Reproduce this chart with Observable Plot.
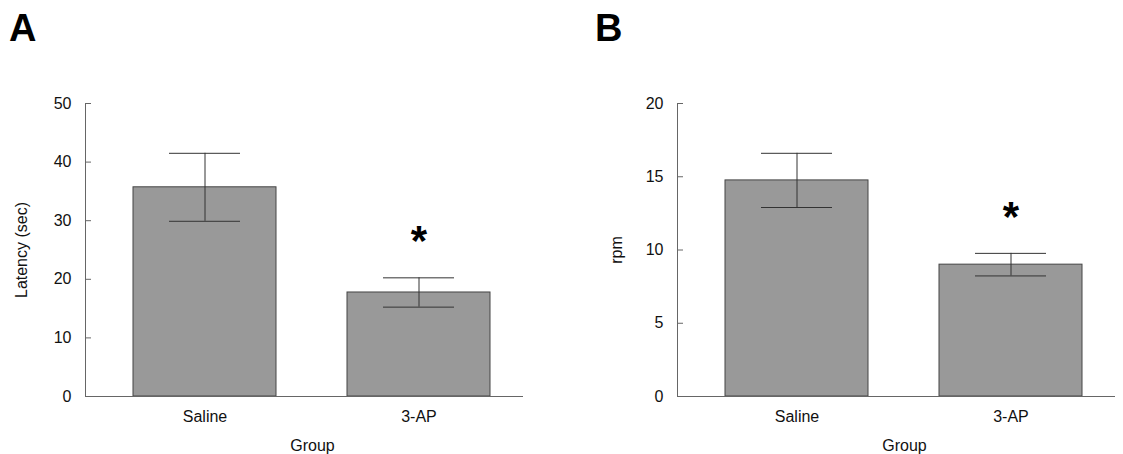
<!DOCTYPE html>
<html>
<head>
<meta charset="utf-8">
<script src="https://cdn.jsdelivr.net/npm/d3@7"></script>
<script src="https://cdn.jsdelivr.net/npm/@observablehq/plot@0.6"></script>
<style>
  html, body { margin: 0; padding: 0; background: #fff; }
  #wrap { position: relative; width: 1123px; height: 454px; overflow: hidden; font-family: "Liberation Sans", Arial, sans-serif; }
  .panel { position: absolute; top: 0; z-index: 1; }
  .letter { position: absolute; top: 9px; font-size: 38px; line-height: 38px; font-weight: bold; color: #000; z-index: 2; }
</style>
</head>
<body>
<div id="wrap">
  <div id="pa" class="panel" style="left:0px"></div>
  <div id="pb" class="panel" style="left:561px"></div>
  <div class="letter" style="left:9px">A</div>
  <div class="letter" style="left:595px">B</div>
</div>
<script>
const groups = ["Saline", "3-AP"];
const latencyMean = [35.7, 17.75];
const latencySem = [5.8, 2.5];
const rpmMean = [14.75, 9.0];
const rpmSem = [1.85, 0.77];
const significant = [false, true];
const latencyTicks = [0, 10, 20, 30, 40, 50];
const rpmTicks = [0, 5, 10, 15, 20];

function makeData(means, sems) {
  return groups.map((g, i) => ({group: g, mean: means[i], lo: means[i] - sems[i], hi: means[i] + sems[i], sig: significant[i]}));
}

function panel({data, ticks, ymax, ylabel, width, marginLeft, marginRight, ylabelDx}) {
  return Plot.plot({
    width, height: 454,
    marginLeft, marginRight, marginTop: 103, marginBottom: 58,
    style: {fontFamily: '"Liberation Sans", Arial, sans-serif', fontSize: "16px", color: "#111", background: "transparent", overflow: "visible"},
    x: {domain: groups, paddingInner: 0.33, paddingOuter: 0, insetLeft: 47, insetRight: 32, label: null},
    y: {domain: [0, ymax], label: null},
    marks: [
      Plot.barY(data, {x: "group", y: "mean", fill: "#999999", stroke: "#444", strokeWidth: 1}),
      Plot.ruleX(data, {x: "group", y1: "lo", y2: "hi", stroke: "#333", strokeWidth: 1}),
      Plot.tickY(data, {x: "group", y: "hi", stroke: "#333", strokeWidth: 1, insetLeft: 36, insetRight: 36}),
      Plot.tickY(data, {x: "group", y: "lo", stroke: "#333", strokeWidth: 1, insetLeft: 36, insetRight: 36}),
      Plot.text(data.filter(d => d.sig), {x: "group", y: "hi", text: () => "*", dy: -36, fontSize: 42, fontWeight: "bold", fill: "#000"}),
      Plot.ruleY([0], {stroke: "#666", strokeWidth: 1}),
      Plot.frame({anchor: "left", stroke: "#666", strokeWidth: 1}),
      Plot.axisY({ticks, tickSize: -6, tickPadding: 20, tickFormat: d => String(d), stroke: "#666", label: null}),
      Plot.axisX({tickSize: 0, tickPadding: 14, label: null}),
      Plot.text([ylabel], {frameAnchor: "left", rotate: -90, dx: ylabelDx, textAnchor: "middle", lineAnchor: "middle", fontSize: 16}),
      Plot.text(["Group"], {frameAnchor: "bottom", dx: 8, dy: 49, textAnchor: "middle", lineAnchor: "middle", fontSize: 16})
    ]
  });
}

document.getElementById("pa").append(panel({
  data: makeData(latencyMean, latencySem), ticks: latencyTicks, ymax: 50, ylabel: "Latency (sec)",
  width: 561, marginLeft: 85, marginRight: 38, ylabelDx: -64
}));
document.getElementById("pb").append(panel({
  data: makeData(rpmMean, rpmSem), ticks: rpmTicks, ymax: 20, ylabel: "rpm",
  width: 562, marginLeft: 116, marginRight: 8, ylabelDx: -61
}));
</script>
</body>
</html>
